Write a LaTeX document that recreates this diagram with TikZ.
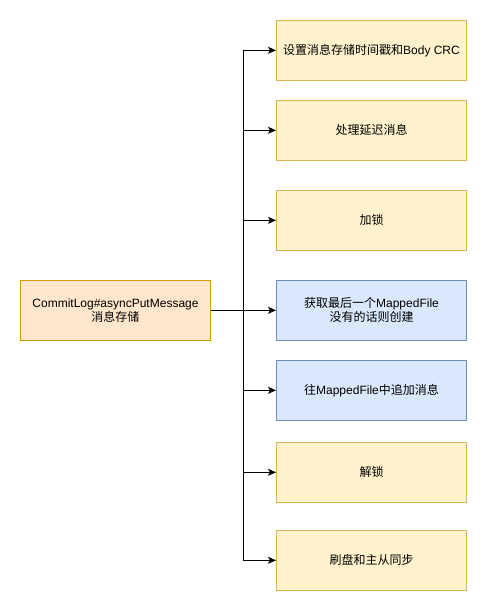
\documentclass[tikz,border=0pt]{standalone}
\usepackage{fontspec}
\setmainfont{Liberation Sans}
\newfontfamily\cjk{Noto Sans CJK SC}
\usetikzlibrary{arrows.meta}
\newcommand{\zh}[1]{{\cjk #1}}
\begin{document}
\begin{tikzpicture}[x=1pt,y=-1pt,
  box/.style={draw, line width=1pt, minimum width=190pt, minimum height=60pt, inner sep=0pt, align=center, font=\fontsize{12pt}{14pt}\selectfont},
  yel/.style={box, fill=yelfill, draw=yeldraw},
  org/.style={box, fill=orgfill, draw=orgdraw},
  blu/.style={box, fill=blufill, draw=bludraw},
  conn/.style={draw=black, line width=1pt, -{Stealth[length=8pt,width=7pt,inset=2pt]}}]
\definecolor{yelfill}{HTML}{FFF2CC}
\definecolor{yeldraw}{HTML}{D6B656}
\definecolor{orgfill}{HTML}{FFE6CC}
\definecolor{orgdraw}{HTML}{D79B00}
\definecolor{blufill}{HTML}{DAE8FC}
\definecolor{bludraw}{HTML}{6C8EBF}
\useasboundingbox (0,0) rectangle (487,611);
\node[org] (L) at (115.5,310.3) {CommitLog\#asyncPutMessage\\\zh{消息存储}};
\node[yel] (T1) at (371.5,50.3) {\zh{设置消息存储时间戳和}Body CRC};
\node[yel] (T2) at (371.5,130.3) {\zh{处理延迟消息}};
\node[yel] (T3) at (371.5,220.3) {\zh{加锁}};
\node[blu] (T4) at (371.5,310.3) {\zh{获取最后一个}MappedFile\\\zh{没有的话则创建}};
\node[blu] (T5) at (371.5,390.3) {\zh{往}MappedFile\zh{中追加消息}};
\node[yel] (T6) at (371.5,472.3) {\zh{解锁}};
\node[yel] (T7) at (371.5,560.3) {\zh{刷盘和主从同步}};
\coordinate (J) at (243.7,310.3);
\foreach \t in {T1,T2,T3,T4,T5,T6,T7}{
  \draw[conn] (L.east) -- (J) |- (\t.west);
}
\end{tikzpicture}
\end{document}
